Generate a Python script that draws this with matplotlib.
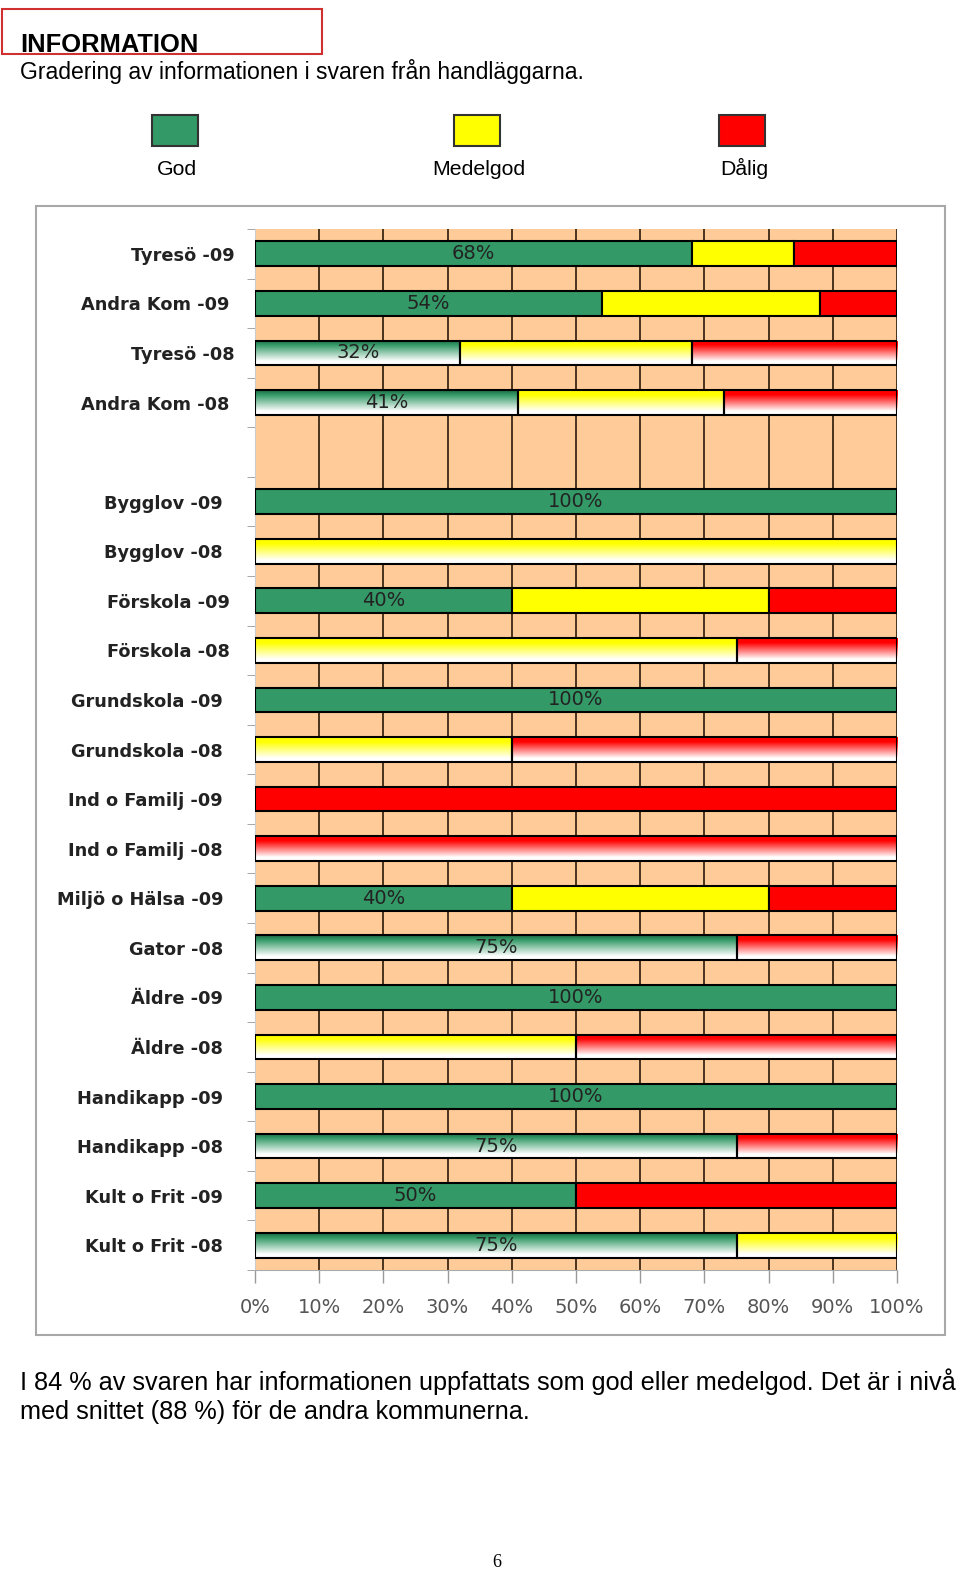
import matplotlib
matplotlib.use("Agg")
import matplotlib.pyplot as plt
import matplotlib.transforms as mtransforms
import numpy as np
from matplotlib.patches import Rectangle
from matplotlib.colors import LinearSegmentedColormap

# Data (percent of answers per grade), blank row separates the groups
categories = ['Tyresö -09', 'Andra Kom -09', 'Tyresö -08', 'Andra Kom -08', '',
              'Bygglov -09', 'Bygglov -08', 'Förskola -09', 'Förskola -08',
              'Grundskola -09', 'Grundskola -08', 'Ind o Familj -09', 'Ind o Familj -08',
              'Miljö o Hälsa -09', 'Gator -08', 'Äldre -09', 'Äldre -08',
              'Handikapp -09', 'Handikapp -08', 'Kult o Frit -09', 'Kult o Frit -08']
god    = [68, 54, 32, 41, 0, 100, 0, 40, 0, 100, 0, 0, 0, 40, 75, 100, 0, 100, 75, 50, 75]
medel  = [16, 34, 36, 32, 0, 0, 100, 40, 75, 0, 40, 0, 0, 40, 0, 0, 50, 0, 0, 0, 25]
dalig  = [16, 12, 32, 27, 0, 0, 0, 20, 25, 0, 60, 100, 100, 20, 25, 0, 50, 0, 25, 50, 0]
series_names = ['God', 'Medelgod', 'Dålig']
xticks = list(range(0, 101, 10))

GREEN = '#339966'
YELLOW = '#FFFF00'
RED = '#FF0000'
colors = [GREEN, YELLOW, RED]
grad_top = ['#1f6b44', '#FFFF00', '#FF0000']

W, H = 960, 1575
fig = plt.figure(figsize=(W / 100, H / 100), dpi=100)

def fx(px):
    return px / W

def fy(py):
    return 1 - py / H

# header
fig.patches.append(Rectangle((fx(2), fy(54)), fx(320), 45 / H, transform=fig.transFigure,
                             fill=False, edgecolor='#d03030', lw=1.5))
fig.text(fx(20), fy(52), 'INFORMATION', fontsize=18.4, fontweight='bold',
         family='Liberation Sans', va='baseline')
fig.text(fx(20), fy(79), 'Gradering av informationen i svaren från handläggarna.',
         fontsize=16.6, family='Liberation Sans', va='baseline')

# legend squares
for name, col, cx in zip(series_names, colors, [175, 477, 742]):
    fig.patches.append(Rectangle((fx(cx - 23), fy(146)), fx(46), 31 / H,
                                 transform=fig.transFigure, facecolor=col,
                                 edgecolor='#333333', lw=1.5))
    fig.text(fx(cx + 2), fy(175), name, fontsize=15.3, family='Liberation Sans',
             ha='center', va='baseline')

# chart frame
fig.patches.append(Rectangle((fx(36), fy(1335)), fx(909), (1335 - 206) / H,
                             transform=fig.transFigure, fill=False,
                             edgecolor='#a8a8a8', lw=1.5))

ax = fig.add_axes([fx(255), fy(1270), fx(642), (1270 - 229) / H])
ax.set_facecolor('#FFCC99')

y = np.arange(len(categories))
vals = [np.array(god), np.array(medel), np.array(dalig)]
left = np.zeros(len(categories))
is08 = np.array([c.endswith('-08') for c in categories])

containers = []
for i, v in enumerate(vals):
    mask = v > 0
    bc = ax.barh(y[mask], v[mask], left=left[mask], height=0.5, color=colors[i],
                 edgecolor='black', lw=1.5, zorder=3)
    containers.append((bc, mask))
    # gradient fill for the 2008 bars
    cmap = LinearSegmentedColormap.from_list(
        'g%d' % i, [(0, grad_top[i]), (0.18, colors[i]), (0.85, 'white'), (1, 'white')])
    grad = np.linspace(0, 1, 64).reshape(-1, 1)
    for patch, row in zip(bc.patches, y[mask]):
        if is08[row]:
            patch.set_facecolor('none')
            x0, y0 = patch.get_x(), patch.get_y()
            w, h = patch.get_width(), patch.get_height()
            im = ax.imshow(grad, cmap=cmap, aspect='auto', origin='upper',
                           extent=(x0, x0 + w, y0 + h, y0), zorder=2.9,
                           interpolation='bilinear')
            im.set_clip_path(patch)
    left = left + v

# percentage labels on the green segments
gbc, gmask = containers[0]
ax.bar_label(gbc, labels=['%d%%' % g for g in np.array(god)[gmask]], label_type='center',
             fontsize=14, color='#222222', family=['Liberation Sans Narrow', 'DejaVu Sans'],
             zorder=5)

ax.set_xlim(0, 100)
ax.set_ylim(len(categories) - 0.5, -0.5)
ax.set_xticks(xticks)
ax.set_xticklabels(['%d%%' % t for t in xticks], fontsize=14, color='#555555',
                   family=['Liberation Sans Narrow', 'DejaVu Sans'])
ax.tick_params(axis='x', length=9, color='#999999', pad=11, width=1)
ax.set_yticks(y)
ax.set_yticklabels(categories, fontsize=12.8, fontweight='bold', color='#222222',
                   family='DejaVu Sans')
ax.tick_params(axis='y', length=0, pad=23)
ax.set_yticks(np.arange(-0.5, len(categories), 1), minor=True)
ax.tick_params(axis='y', which='minor', length=6, color='#999999')
ax.xaxis.grid(True, color='#2b1a0a', lw=1.2, zorder=1)
ax.set_axisbelow(True)
for s in ['top', 'right']:
    ax.spines[s].set_visible(False)
ax.spines['left'].set_color('#cccccc')
ax.spines['bottom'].set_color('#aaaaaa')

# some labels sit a bit closer to the axis in the original
label_shift = {0: 12, 1: 6, 2: 12, 3: 6, 7: 7, 8: 7}
for idx, lab in enumerate(ax.get_yticklabels()):
    if idx in label_shift:
        off = mtransforms.ScaledTranslation(label_shift[idx] / 100, 0, fig.dpi_scale_trans)
        lab.set_transform(lab.get_transform() + off)

# text below chart
fig.text(fx(20), fy(1390), 'I 84 % av svaren har informationen uppfattats som god eller medelgod. '
         'Det är i nivå', fontsize=18.2, family='Liberation Sans', va='baseline')
fig.text(fx(20), fy(1419), 'med snittet (88 %) för de andra kommunerna.',
         fontsize=18.2, family='Liberation Sans', va='baseline')
fig.text(fx(497), fy(1567), '6', fontsize=13, family='Liberation Serif',
         ha='center', va='baseline')

fig.savefig('out.png', dpi=100)
